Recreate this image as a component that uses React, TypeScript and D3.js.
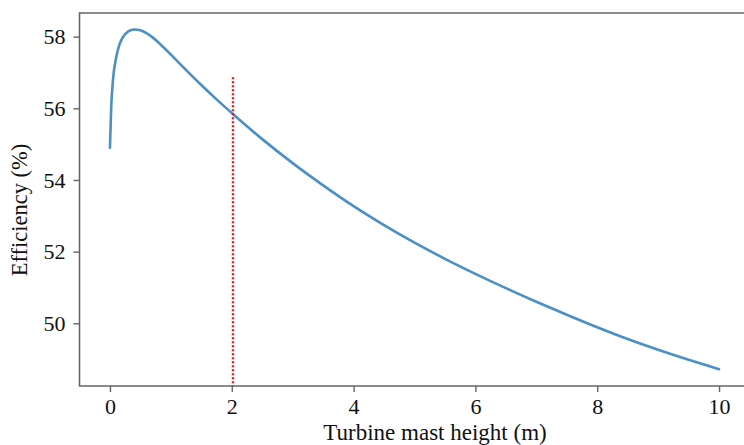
import React, { useEffect, useRef } from 'react';
import * as d3 from 'd3';

// mast height (m) vs efficiency (%)
const heights = [0, 0.02, 0.05, 0.1, 0.15, 0.2, 0.3, 0.4, 0.5, 0.6, 0.7, 0.8, 1.0, 1.25, 1.5, 1.75, 2.0, 2.5, 3.0, 3.5, 4.0, 4.5, 5.0, 5.5, 6.0, 6.5, 7.0, 7.5, 8.0, 8.5, 9.0, 9.5, 10.0];
const efficiency = [54.9, 56.0, 56.8, 57.4, 57.75, 57.95, 58.15, 58.2, 58.18, 58.1, 57.98, 57.83, 57.5, 57.07, 56.65, 56.25, 55.87, 55.14, 54.47, 53.85, 53.27, 52.74, 52.25, 51.8, 51.38, 50.98, 50.6, 50.24, 49.89, 49.56, 49.26, 48.98, 48.72];
const xTicks = [0, 2, 4, 6, 8, 10];
const yTicks = [50, 52, 54, 56, 58];
const markerX = 2.02;
const markerTop = 56.87;

const W = 744;
const H = 445;
const SERIF = '"Liberation Serif", "Times New Roman", serif';

const App = () => {
  const svgRef = useRef(null);

  useEffect(() => {
    const svg = d3.select(svgRef.current);
    svg.selectAll('*').remove();

    const x = d3.scaleLinear().domain([-0.5, 10.5]).range([79.5, 749.5]);
    const y = d3.scaleLinear().domain([48.25, 58.66]).range([386, 13]);

    svg.append('rect').attr('width', W).attr('height', H).attr('fill', 'white');

    const pts = heights.map((h, i) => [h, efficiency[i]]);
    const line = d3.line()
      .x(d => x(d[0]))
      .y(d => y(d[1]))
      .curve(d3.curveMonotoneX);

    svg.append('path')
      .datum(pts)
      .attr('d', line)
      .attr('fill', 'none')
      .attr('stroke', '#4a90c4')
      .attr('stroke-width', 2.6)
      .attr('stroke-linecap', 'round');

    // red dotted marker
    svg.append('line')
      .attr('x1', x(markerX)).attr('x2', x(markerX))
      .attr('y1', y(markerTop)).attr('y2', y(48.25))
      .attr('stroke', '#ee1111')
      .attr('stroke-width', 2.4)
      .attr('stroke-dasharray', '2,2');

    // axes
    const xAxis = d3.axisBottom(x).tickValues(xTicks).tickSize(6).tickPadding(6).tickFormat(d3.format('d'));
    const yAxis = d3.axisLeft(y).tickValues(yTicks).tickSize(6).tickPadding(8).tickFormat(d3.format('d'));

    const gx = svg.append('g').attr('transform', `translate(0,${y(48.25)})`).call(xAxis);
    const gy = svg.append('g').attr('transform', `translate(${x(-0.5)},0)`).call(yAxis);

    [gx, gy].forEach(g => {
      g.select('.domain').remove();
      g.selectAll('.tick line').attr('stroke', '#666').attr('stroke-width', 1.4);
      g.selectAll('.tick text')
        .attr('fill', '#111')
        .style('font-family', SERIF)
        .style('font-size', '22px');
    });

    // spines: left, bottom, top
    svg.append('path')
      .attr('d', `M${W},13 H79.5 V386 H${W}`)
      .attr('fill', 'none')
      .attr('stroke', '#666')
      .attr('stroke-width', 1.6);

    svg.append('text')
      .attr('x', 435).attr('y', 440)
      .attr('text-anchor', 'middle')
      .style('font-family', SERIF)
      .style('font-size', '23px')
      .attr('fill', '#111')
      .text('Turbine mast height (m)');

    svg.append('text')
      .attr('transform', 'translate(27,210) rotate(-90)')
      .attr('text-anchor', 'middle')
      .style('font-family', SERIF)
      .style('font-size', '22.5px')
      .attr('fill', '#111')
      .text('Efficiency (%)');
  }, []);

  return (
    <svg ref={svgRef} width={W} height={H}
      style={{ position: 'absolute', left: 0, top: 0, display: 'block' }} />
  );
};

export default App;
